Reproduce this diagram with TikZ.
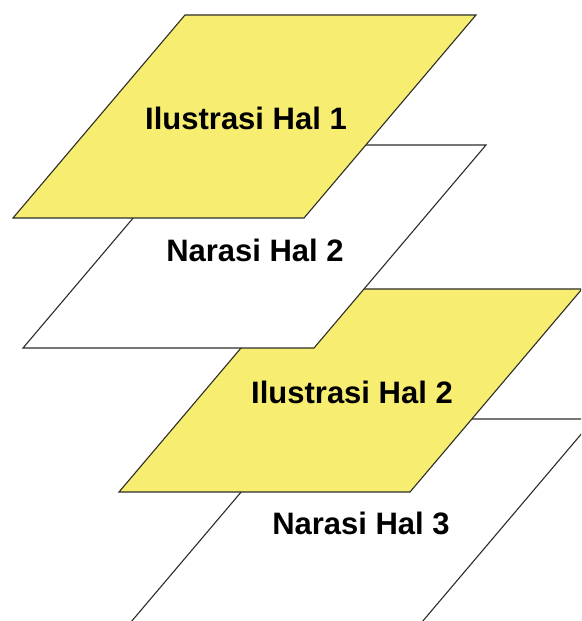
\documentclass[tikz,border=0pt]{standalone}
\usepackage{fontspec}
\setmainfont{Liberation Sans}
\definecolor{pageyellow}{RGB}{247,237,112}
\definecolor{edgegray}{RGB}{45,45,40}
\tikzset{
  sheet/.style={draw=edgegray, line width=1.1pt, line join=miter},
  illus/.style={sheet, fill=pageyellow},
  narr/.style={sheet, fill=white},
  caption/.style={font=\bfseries\fontsize{31}{36}\selectfont, text=black, inner sep=0pt}
}
% a sheet seen in perspective: bottom-left corner at #1
\newcommand\sheetat[2]{%
  \path[#2] (#1) -- ++(291,0) -- ++(172,203) -- ++(-291,0) -- cycle;}
\begin{document}
\begin{tikzpicture}[x=1pt,y=1pt]
  \useasboundingbox (0,0) rectangle (581,621);
  \clip (0,0) rectangle (581,621);
  \fill[white] (0,0) rectangle (581,621);
  % sheets, drawn from the lowest to the top-most
  \sheetat{131,-1}{narr}
  \sheetat{119,129}{illus}
  \sheetat{23,273}{narr}
  \sheetat{13,403}{illus}
  % captions
  \node[caption] (ilus1) at (246,503) {Ilustrasi Hal 1};
  \node[caption] (nar2)  at (255,371) {Narasi Hal 2};
  \node[caption] (ilus2) at (352,229) {Ilustrasi Hal 2};
  \node[caption] (nar3)  at (361,98)  {Narasi Hal 3};
\end{tikzpicture}
\end{document}
